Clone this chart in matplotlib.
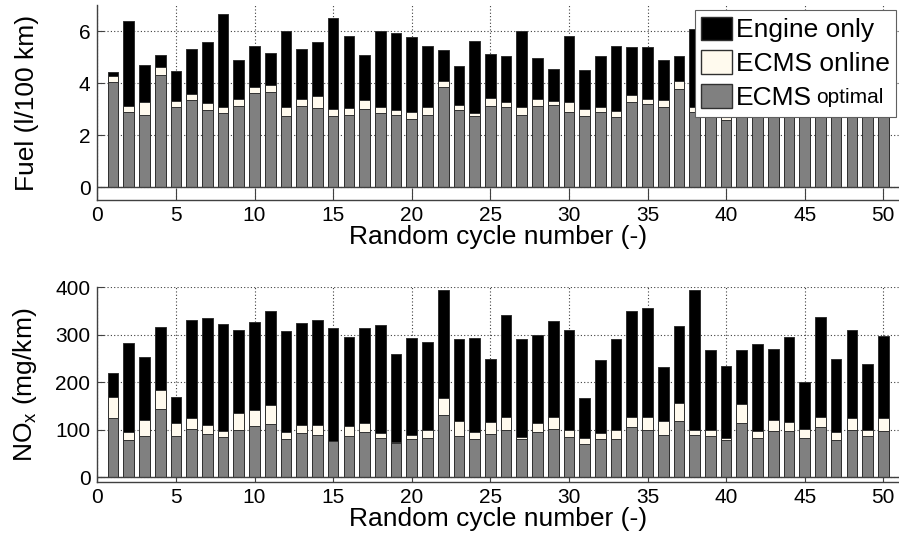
import numpy as np
import matplotlib
matplotlib.use("Agg")
import matplotlib.pyplot as plt
from matplotlib.patches import Patch

# cycle numbers
cycles = np.arange(1, 51)

# fuel consumption (l/100 km)
fuel_engine = [4.45, 6.41, 4.72, 5.09, 4.49, 5.32, 5.58, 6.67, 4.90, 5.46,
               5.17, 6.00, 5.32, 5.60, 6.53, 5.83, 5.09, 6.00, 5.95, 5.78,
               5.44, 5.27, 4.69, 5.64, 5.13, 5.04, 6.00, 4.97, 4.55, 5.83,
               4.51, 5.04, 5.46, 5.40, 5.40, 4.91, 5.04, 6.09, 5.60, 5.30,
               5.50, 5.20, 5.80, 5.40, 5.10, 5.60, 5.30, 5.70, 5.20, 5.50]
fuel_online = [4.27, 3.13, 3.28, 4.62, 3.33, 3.59, 3.24, 3.10, 3.40, 3.85,
               3.94, 3.10, 3.41, 3.53, 3.03, 3.05, 3.37, 3.10, 2.99, 2.90,
               3.08, 4.10, 3.19, 2.87, 3.44, 3.27, 3.09, 3.40, 3.33, 3.29,
               3.01, 3.10, 2.95, 3.55, 3.41, 3.37, 4.10, 3.11, 3.25, 2.75,
               3.30, 3.20, 3.40, 3.30, 3.20, 3.30, 3.00, 3.40, 3.20, 3.30]
fuel_optimal = [4.04, 2.90, 2.79, 4.33, 3.10, 3.35, 2.99, 2.87, 3.14, 3.63,
                3.67, 2.76, 3.12, 3.06, 2.76, 2.79, 3.03, 2.87, 2.78, 2.65,
                2.78, 3.86, 2.99, 2.74, 3.13, 3.09, 2.78, 3.12, 3.17, 2.91,
                2.74, 2.91, 2.72, 3.28, 3.21, 3.09, 3.78, 2.92, 3.00, 2.60,
                3.10, 3.00, 3.15, 3.05, 2.98, 3.10, 2.79, 3.15, 3.00, 3.10]

# NOx emissions (mg/km)
nox_engine = [219, 282, 253, 317, 168, 330, 336, 322, 310, 327,
              349, 308, 325, 330, 314, 296, 315, 320, 259, 293,
              284, 394, 291, 293, 249, 342, 291, 300, 329, 309,
              167, 246, 290, 351, 356, 231, 318, 394, 267, 235,
              267, 281, 270, 295, 200, 337, 249, 310, 238, 298]
nox_online = [168, 94, 121, 183, 113, 124, 109, 97, 134, 141,
              151, 94, 110, 109, 77, 107, 113, 92, 73, 88,
              99, 167, 118, 94, 116, 127, 85, 114, 126, 99,
              83, 92, 99, 127, 126, 119, 157, 100, 99, 83,
              153, 97, 121, 117, 101, 127, 94, 124, 100, 124]
nox_optimal = [125, 78, 87, 143, 86, 101, 90, 84, 99, 108,
               111, 80, 92, 89, 75, 86, 95, 83, 72, 80,
               83, 131, 87, 80, 90, 100, 80, 94, 102, 84,
               70, 81, 80, 105, 100, 88, 118, 88, 87, 78,
               114, 82, 97, 96, 83, 105, 78, 100, 86, 97]

fuel_ticks = [0, 2, 4, 6]
nox_ticks = [0, 100, 200, 300, 400]
x_ticks = list(range(0, 51, 5))

C_ENGINE = "#000000"
C_ONLINE = "#fffaee"
C_OPTIMAL = "#808080"
EDGE = "#303030"

plt.rcParams["font.family"] = ["Liberation Sans", "DejaVu Sans"]


def draw_bars(ax, engine, online, optimal, ylim, yticks):
    # bars overlap each other, the smallest one in front
    for vals, col in [(engine, C_ENGINE), (online, C_ONLINE), (optimal, C_OPTIMAL)]:
        ax.bar(cycles, vals, width=0.68, color=col, edgecolor=EDGE,
               linewidth=0.7, zorder=3)
    ax.axhline(0, color="#404040", linewidth=1.0, zorder=4)
    ax.set_xlim(0, 51)
    ax.set_ylim(*ylim)
    ax.set_xticks(x_ticks)
    ax.set_yticks(yticks)
    ax.grid(True, linestyle=(0, (1, 2)), color="#404040", linewidth=0.8, zorder=0)
    ax.set_axisbelow(True)
    for s in ["top", "right"]:
        ax.spines[s].set_visible(False)
    for s in ["left", "bottom"]:
        ax.spines[s].set_color("#404040")
        ax.spines[s].set_linewidth(1.0)
    ax.tick_params(axis="both", direction="in", labelsize=15, colors="#404040",
                   labelcolor="black", width=0.8)
    ax.tick_params(axis="y", length=5, pad=5)
    ax.set_xlabel("Random cycle number (-)", fontsize=19)
    ax.xaxis.set_label_coords(0.5, -0.13)


fig = plt.figure(figsize=(8.99, 5.37), dpi=100)
ax1 = fig.add_axes([0.1083, 0.6276, 0.8917, 0.3622])
ax2 = fig.add_axes([0.1083, 0.1024, 0.8917, 0.3626])

draw_bars(ax1, fuel_engine, fuel_online, fuel_optimal, (-0.48, 7), fuel_ticks)
ax1.tick_params(axis="x", length=9, pad=4)
ax1.set_ylabel("Fuel (l/100 km)", fontsize=19)
ax1.yaxis.set_label_coords(-0.073, 0.5)

draw_bars(ax2, nox_engine, nox_online, nox_optimal, (-10.5, 400), nox_ticks)
ax2.tick_params(axis="x", length=5, pad=4)
ax2.set_ylabel("NO$_\\mathregular{x}$ (mg/km)", fontsize=19)
ax2.yaxis.set_label_coords(-0.073, 0.5)

handles = [Patch(facecolor=C_ENGINE, edgecolor=EDGE, label="Engine only"),
           Patch(facecolor=C_ONLINE, edgecolor=EDGE, label="ECMS online"),
           Patch(facecolor=C_OPTIMAL, edgecolor=EDGE, label="ECMS")]
leg = ax1.legend(handles=handles, loc="upper right",
                 bbox_to_anchor=(896 / 899, 1 - 10 / 537),
                 bbox_transform=fig.transFigure, fontsize=19, fancybox=False,
                 framealpha=1, edgecolor="#606060", borderpad=0.25,
                 handlelength=1.14, handleheight=1.0, handletextpad=0.15,
                 labelspacing=0.3, borderaxespad=0)
leg.set_zorder(10)
leg.get_frame().set_linewidth(0.8)

# "optimal" is written smaller next to "ECMS"
fig.canvas.draw()
bb = leg.get_texts()[2].get_window_extent(fig.canvas.get_renderer())
x0, y0 = fig.transFigure.inverted().transform((bb.x1 + 5, bb.y0 + 3))
fig.text(x0, y0, "optimal", fontsize=15, va="bottom", ha="left", zorder=11)

fig.savefig("out.png", dpi=100)
